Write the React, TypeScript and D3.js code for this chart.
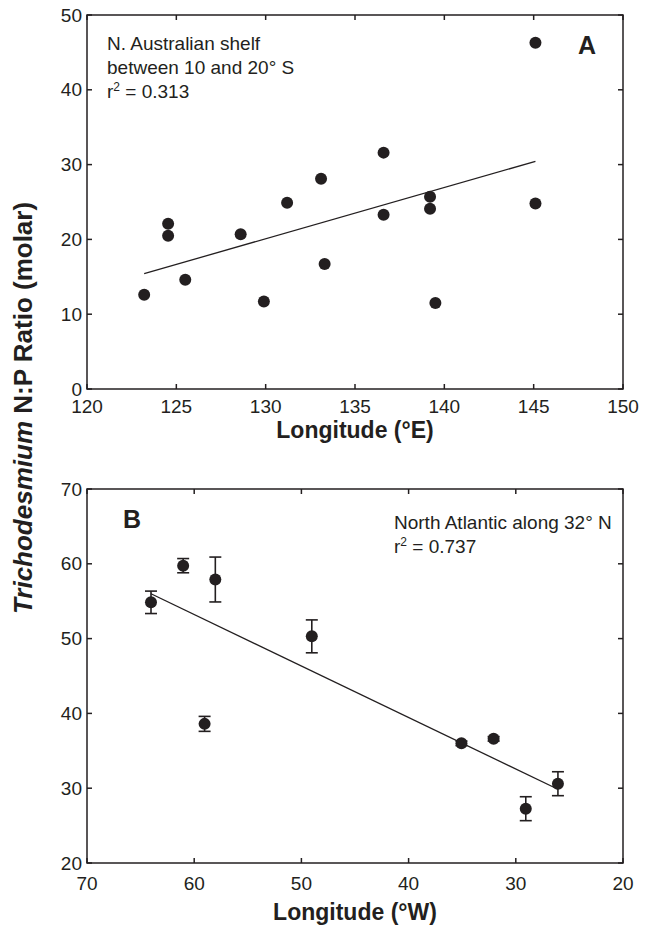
import React from 'react';
import * as d3 from 'd3';

// Panel A: N. Australian shelf
const aLon = [123.2, 124.54, 124.54, 125.5, 128.6, 129.9, 131.2, 133.1, 133.3, 136.6, 136.6, 139.2, 139.2, 139.5, 145.1, 145.1];
const aRatio = [12.6, 22.1, 20.5, 14.6, 20.7, 11.7, 24.9, 28.1, 16.7, 31.6, 23.3, 25.7, 24.1, 11.5, 46.3, 24.8];
const aXTicks = [120, 125, 130, 135, 140, 145, 150];
const aYTicks = [0, 10, 20, 30, 40, 50];
const aNote = ['N. Australian shelf', 'between 10 and 20° S'];
const aR2 = '0.313';

// Panel B: North Atlantic along 32° N
const bLon = [64.03, 61.03, 58.03, 59.03, 49.03, 35.07, 32.07, 29.07, 26.07];
const bRatio = [54.85, 59.75, 57.9, 38.6, 50.3, 36.0, 36.6, 27.26, 30.6];
const bErr = [1.5, 0.95, 3.0, 1.0, 2.2, 0.3, 0.3, 1.6, 1.6];
const bXTicks = [70, 60, 50, 40, 30, 20];
const bYTicks = [20, 30, 40, 50, 60, 70];
const bNote = ['North Atlantic along 32° N'];
const bR2 = '0.737';

const INK = '#231f20';
const FONT = '"Liberation Sans", Arial, Helvetica, sans-serif';

function linFit(xs: number[], ys: number[]) {
  const mx = d3.mean(xs)!;
  const my = d3.mean(ys)!;
  let sxy = 0, sxx = 0;
  xs.forEach((x, i) => { sxy += (x - mx) * (ys[i] - my); sxx += (x - mx) * (x - mx); });
  const slope = sxy / sxx;
  return (x: number) => my + slope * (x - mx);
}

type PanelProps = {
  top: number;
  xDomain: [number, number];
  yDomain: [number, number];
  xTicks: number[];
  yTicks: number[];
  xs: number[];
  ys: number[];
  errs?: number[];
  xTitle: string;
  xLabelOffset: number;
  titleOffset: number;
  children?: React.ReactNode;
};

const L = 87, R = 623, H = 374, TICK = 5;

function Panel(p: PanelProps) {
  const x = d3.scaleLinear().domain(p.xDomain).range([L, R]);
  const y = d3.scaleLinear().domain(p.yDomain).range([p.top + H, p.top]);
  const f = linFit(p.xs, p.ys);
  const [x0, x1] = d3.extent(p.xs) as [number, number];
  const line = d3.line<number>().x(d => x(d)).y(d => y(f(d)));
  const bottom = p.top + H;
  return (
    <g>
      <rect x={L} y={p.top} width={R - L} height={H} fill="none" stroke={INK} strokeWidth={1.5} />
      {p.xTicks.map(t => (
        <g key={'x' + t}>
          <line x1={x(t)} x2={x(t)} y1={bottom} y2={bottom - TICK} stroke={INK} strokeWidth={1.5} />
          <line x1={x(t)} x2={x(t)} y1={p.top} y2={p.top + TICK} stroke={INK} strokeWidth={1.5} />
          <text x={x(t)} y={bottom + p.xLabelOffset} textAnchor="middle" fontSize={19} fill={INK}>{t}</text>
        </g>
      ))}
      {p.yTicks.map(t => (
        <g key={'y' + t}>
          <line x1={L} x2={L + TICK} y1={y(t)} y2={y(t)} stroke={INK} strokeWidth={1.5} />
          <line x1={R} x2={R - TICK} y1={y(t)} y2={y(t)} stroke={INK} strokeWidth={1.5} />
          <text x={82} y={y(t)} dy="0.35em" textAnchor="end" fontSize={19} fill={INK}>{t}</text>
        </g>
      ))}
      <path d={line([x0, x1]) || ''} fill="none" stroke={INK} strokeWidth={1.3} />
      {p.errs && p.xs.map((v, i) => (
        <g key={'e' + i} stroke={INK} strokeWidth={1.6}>
          <line x1={x(v)} x2={x(v)} y1={y(p.ys[i] - p.errs![i])} y2={y(p.ys[i] + p.errs![i])} />
          <line x1={x(v) - 6} x2={x(v) + 6} y1={y(p.ys[i] - p.errs![i])} y2={y(p.ys[i] - p.errs![i])} />
          <line x1={x(v) - 6} x2={x(v) + 6} y1={y(p.ys[i] + p.errs![i])} y2={y(p.ys[i] + p.errs![i])} />
        </g>
      ))}
      {p.xs.map((v, i) => (
        <circle key={'c' + i} cx={x(v)} cy={y(p.ys[i])} r={6} fill={INK} />
      ))}
      <text x={(L + R) / 2} y={bottom + p.titleOffset} textAnchor="middle" fontSize={23} fontWeight="bold" fill={INK}>{p.xTitle}</text>
      {p.children}
    </g>
  );
}

export default function App() {
  return (
    <svg width={648} height={927} style={{ position: 'absolute', left: 0, top: 0, background: '#fff' }} fontFamily={FONT}>
      <rect width={648} height={927} fill="#fff" />
      <Panel top={15} xDomain={[120, 150]} yDomain={[0, 50]} xTicks={aXTicks} yTicks={aYTicks}
        xs={aLon} ys={aRatio} xTitle="Longitude (°E)" xLabelOffset={24} titleOffset={49}>
        {aNote.map((s, i) => (
          <text key={i} x={107} y={50 + i * 24} fontSize={19} fill={INK}>{s}</text>
        ))}
        <text x={107} y={98} fontSize={19} fill={INK}>
          r<tspan fontSize={12} dy={-7}>2</tspan><tspan dy={7}> = {aR2}</tspan>
        </text>
        <text x={587} y={54} textAnchor="middle" fontSize={25} fontWeight="bold" fill={INK}>A</text>
      </Panel>
      <Panel top={489} xDomain={[70, 20]} yDomain={[20, 70]} xTicks={bXTicks} yTicks={bYTicks}
        xs={bLon} ys={bRatio} errs={bErr} xTitle="Longitude (°W)" xLabelOffset={27} titleOffset={57}>
        {bNote.map((s, i) => (
          <text key={i} x={394} y={529 + i * 24} fontSize={19} fill={INK}>{s}</text>
        ))}
        <text x={394} y={553} fontSize={19} fill={INK}>
          r<tspan fontSize={12} dy={-7}>2</tspan><tspan dy={7}> = {bR2}</tspan>
        </text>
        <text x={132} y={528} textAnchor="middle" fontSize={25} fontWeight="bold" fill={INK}>B</text>
      </Panel>
      <text transform="translate(32,408) rotate(-90)" textAnchor="middle" fontSize={26} fontWeight="bold" fill={INK}>
        <tspan fontStyle="italic">Trichodesmium</tspan> N:P Ratio (molar)
      </text>
    </svg>
  );
}
